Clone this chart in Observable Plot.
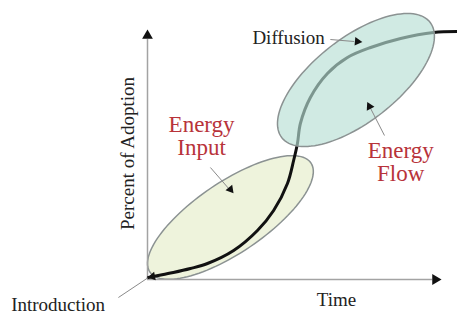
<!DOCTYPE html>
<html>
<head>
<meta charset="utf-8">
<script src="https://cdn.jsdelivr.net/npm/d3@7"></script>
<script src="https://cdn.jsdelivr.net/npm/@observablehq/plot@0.6"></script>
<style>
  html, body { margin: 0; padding: 0; background: #fff; }
</style>
</head>
<body>
<div id="chart"></div>
<script>
// S-curve of adoption (time 0..100, percent 0..100)
const curveTime    = [0.3, 5.4, 8.8, 14.6, 20.4, 29.3, 37.4, 42.9, 47.6, 49.7, 51.0, 52.0, 55.4, 61.2, 68.0, 75.9, 86.1, 97.3, 105.4];
const curvePercent = [0.8, 2.0, 2.8, 4.4, 6.4, 11.6, 19.6, 27.6, 38.4, 47.6, 54.4, 62.4, 72.8, 82.4, 88.8, 92.8, 96.4, 98.8, 99.2];

// Ellipses: center, semi-axis vectors (data units)
const ellipseNames  = ["Energy Input", "Energy Flow"];
const ellipseCenter = [[28.2, 24.8], [70.9, 79.8]];
const ellipseMajor  = [[27.4, 21.8], [25.2, 23.1]];
const ellipseMinor  = [[6.7, -11.7], [8.8, -13.2]];

// Labels
const labelTexts = ["Diffusion", "Energy\nInput", "Energy\nFlow", "Introduction"];
const labelX     = [48.0, 18.4, 86.1, -30.4];
const labelY     = [96.8, 57.2, 46.8, -10.0];
// Annotation arrows: from -> to, head direction (degrees)
const arrowFromX = [62.2, 21.4, 80.6, -9.9];
const arrowFromY = [96.0, 44.8, 57.6, -7.2];
const arrowToX   = [70.3, 27.6, 75.2, 0.3];
const arrowToY   = [95.2, 36.4, 70.0, 0.8];
const headX      = [71.4, 28.2, 75.5, 1.7];
const headY      = [95.2, 36.0, 69.2, 1.2];
const headAngle  = [95, 141, -27, 259];

const curve = curveTime.map((t, i) => ({t, p: curvePercent[i]}));

function ellipsePoints(k) {
  const [cx, cy] = ellipseCenter[k], [px, py] = ellipseMajor[k], [qx, qy] = ellipseMinor[k];
  const pts = [];
  for (let i = 0; i < 120; i++) {
    const a = (i / 120) * 2 * Math.PI;
    pts.push({x: cx + px * Math.cos(a) + qx * Math.sin(a), y: cy + py * Math.cos(a) + qy * Math.sin(a)});
  }
  return pts;
}
const lower = ellipsePoints(0), upper = ellipsePoints(1);

const arrows = headX.map((x, i) => ({x1: arrowFromX[i], y1: arrowFromY[i], x2: arrowToX[i], y2: arrowToY[i], hx: x, hy: headY[i], a: headAngle[i]}));
const axisHeads = [{x: 0, y: 97.5, a: 0}, {x: 97.9, y: 0, a: 90}];

const serif = "'Liberation Serif', 'Times New Roman', serif";
const red = "#b8333a";

const chart = Plot.plot({
  width: 457,
  height: 314,
  marginLeft: 147,
  marginRight: 0,
  marginTop: 0,
  marginBottom: 35,
  x: {domain: [0, 105.44], axis: null},
  y: {domain: [0, 111.6], axis: null},
  style: {background: "white"},
  marks: [
    Plot.line(lower, {x: "x", y: "y", curve: "linear-closed", fill: "#eef3dc", stroke: "#8b9292", strokeWidth: 1.5}),
    Plot.ruleY([0], {x1: 0, x2: 97, stroke: "#a3a3a3", strokeWidth: 1.5}),
    Plot.ruleX([0], {y1: 0, y2: 96, stroke: "#a3a3a3", strokeWidth: 1.5}),
    Plot.dot(axisHeads, {x: "x", y: "y", symbol: "triangle", r: 4, fill: "#111", stroke: "none", rotate: "a"}),
    Plot.line(curve, {x: "t", y: "p", curve: "catmull-rom", stroke: "#111", strokeWidth: 3}),
    Plot.line(upper, {x: "x", y: "y", curve: "linear-closed", fill: "rgb(183,223,212)", fillOpacity: 0.65, stroke: "none"}),
    Plot.line(upper, {x: "x", y: "y", curve: "linear-closed", fill: "none", stroke: "#8b9292", strokeWidth: 1.5}),
    Plot.link(arrows, {x1: "x1", y1: "y1", x2: "x2", y2: "y2", stroke: "#8a8a8a", strokeWidth: 1}),
    Plot.dot(arrows, {x: "hx", y: "hy", symbol: "triangle", r: 3.2, fill: "#111", stroke: "none", rotate: "a"}),
    Plot.text([labelTexts[0]], {x: labelX[0], y: labelY[0], text: d => d, fontFamily: serif, fontSize: 19, fill: "#222", textAnchor: "middle"}),
    Plot.text([labelTexts[1], labelTexts[2]], {x: [labelX[1], labelX[2]], y: [labelY[1], labelY[2]], text: d => d, fontFamily: serif, fontSize: 23, fill: red, textAnchor: "middle", lineHeight: 1.0}),
    Plot.text([labelTexts[3]], {x: labelX[3], y: labelY[3], text: d => d, fontFamily: serif, fontSize: 19, fill: "#222", textAnchor: "middle"}),
    Plot.text(["Time"], {x: 64.3, y: -8, text: d => d, fontFamily: serif, fontSize: 19, fill: "#222", textAnchor: "middle"}),
    Plot.text(["Percent of Adoption"], {x: -6.5, y: 50.4, text: d => d, fontFamily: serif, fontSize: 19, fill: "#222", textAnchor: "middle", rotate: -90})
  ]
});
document.getElementById("chart").append(chart);
</script>
</body>
</html>
